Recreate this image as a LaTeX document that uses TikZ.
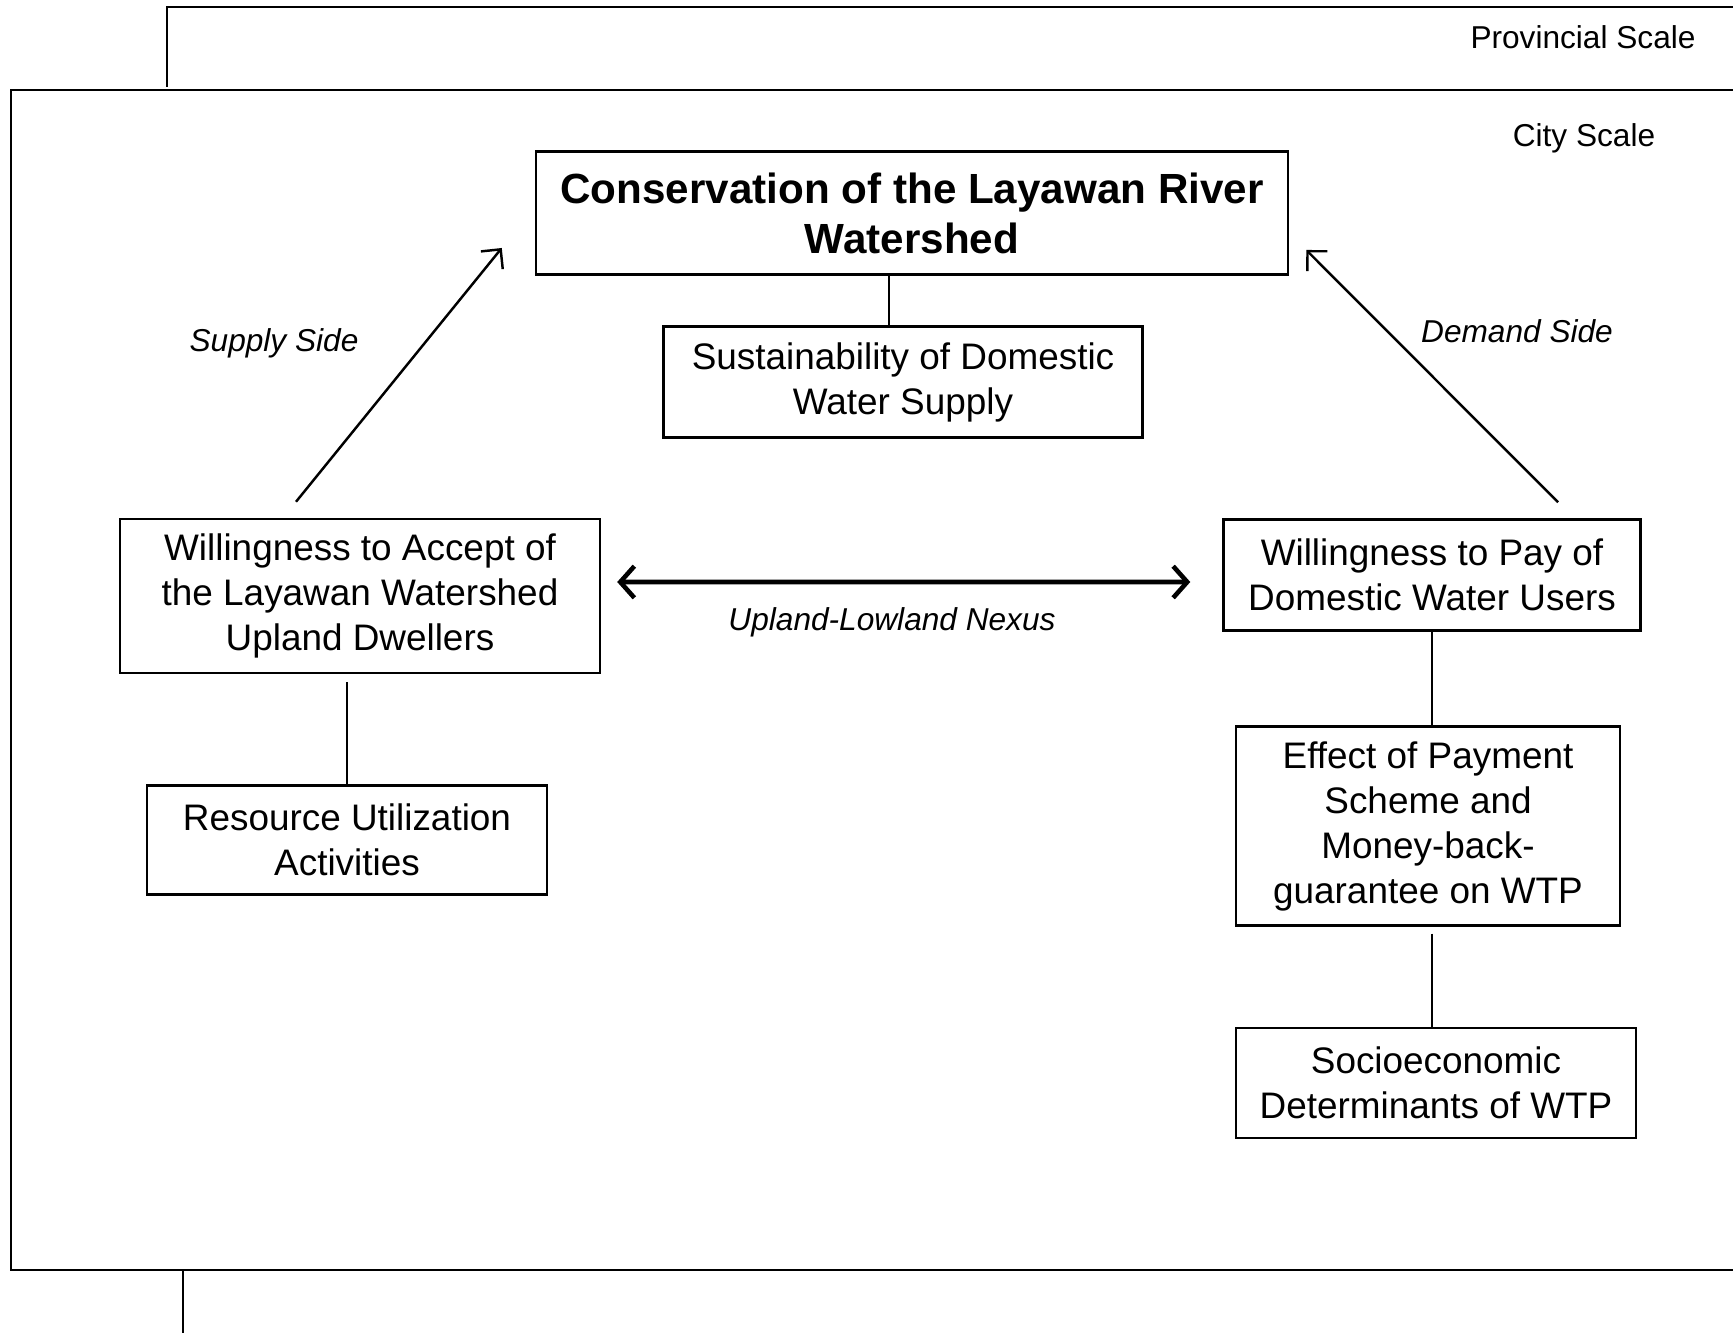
\documentclass[tikz,border=0pt]{standalone}
\usepackage{fontspec}
\setmainfont{Liberation Sans}
\usetikzlibrary{arrows.meta}
\begin{document}
\begin{tikzpicture}
  [line width=.7pt,
   box/.style={draw,rectangle,align=center,inner sep=0pt,font=\fontsize{10.5}{12.8}\selectfont},
   tag/.style={font=\fontsize{9}{11}\selectfont},
   note/.style={font=\fontsize{9}{11}\selectfont\itshape},
   barb/.style={-{Straight Barb[length=4pt,width=8pt]}}]
  \useasboundingbox (0,0) rectangle (17.33,13.33);

  % scale frames
  \draw (1.67,12.46) |- (17.33,13.26);
  \draw (17.33,12.43) -| (0.11,0.63) -- (17.33,0.63);
  \draw (1.83,0.63) -- (1.83,0);
  \node[tag] (prov) at (15.83,12.96) {Provincial Scale};
  \node[tag] (city) at (15.84,11.95) {City Scale};

  \node[box,font=\fontsize{12}{14.2}\selectfont\bfseries,minimum width=7.52cm,minimum height=1.23cm] (cons) at (9.12,11.20) {Conservation of the Layawan River\\Watershed};
  \node[box,minimum width=4.79cm,minimum height=1.11cm] (sust) at (9.03,9.51) {Sustainability of Domestic\\Water Supply};
  \node[box,minimum width=4.80cm,minimum height=1.54cm] (wta) at (3.60,7.37) {Willingness to Accept of\\the Layawan Watershed\\Upland Dwellers};
  \node[box,minimum width=4.00cm,minimum height=1.09cm] (res) at (3.47,4.93) {Resource Utilization\\Activities};
  \node[box,minimum width=4.17cm,minimum height=1.11cm] (wtp) at (14.32,7.58) {Willingness to Pay of\\Domestic Water Users};
  \node[box,minimum width=3.84cm,minimum height=1.99cm] (eff) at (14.28,5.07) {Effect of Payment\\Scheme and\\Money-back-\\guarantee on WTP};
  \node[box,minimum width=4.00cm,minimum height=1.10cm] (soc) at (14.36,2.50) {Socioeconomic\\Determinants of WTP};

  % plain links
  \coordinate (k1) at (8.89,0);
  \draw (k1 |- cons.south) -- (k1 |- sust.north);
  \draw[shorten <=.08cm] (res.north |- wta.south) -- (res.north);
  \draw (wtp.south) -- (wtp.south |- eff.north);
  \draw[shorten <=.07cm] (wtp.south |- eff.south) -- (wtp.south |- soc.north);

  % supply / demand arrows
  \draw[barb] ([shift={(-0.64,0.16)}]wta.north) -- ([shift={(-0.33,-0.35)}]cons.west);
  \draw[barb] ([shift={(1.26,0.16)}]wtp.north) -- ([shift={(0.17,-0.37)}]cons.east);
  \draw[{Straight Barb[length=4pt,width=9pt]}-{Straight Barb[length=4pt,width=9pt]},line width=1.3pt]
    ([shift={(0.16,0.14)}]wta.east) -- ([shift={(-0.32,-0.07)}]wtp.west);

  \node[note] (supply) at (2.74,9.90) {Supply Side};
  \node[note] (demand) at (15.17,10.02) {Demand Side};
  \node[note] (nexus) at (8.92,7.11) {Upland-Lowland Nexus};
\end{tikzpicture}
\end{document}
